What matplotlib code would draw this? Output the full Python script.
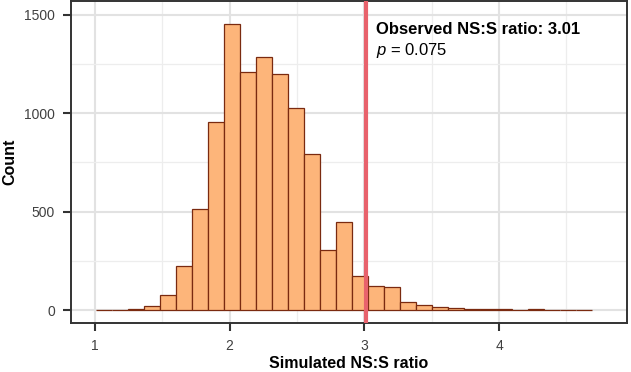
import matplotlib
matplotlib.use("Agg")
import matplotlib.pyplot as plt
import numpy as np

plt.rcParams['font.family'] = ['Liberation Sans', 'DejaVu Sans']
plt.rcParams['mathtext.fontset'] = 'custom'
plt.rcParams['mathtext.it'] = 'Liberation Sans:italic'
plt.rcParams['mathtext.rm'] = 'Liberation Sans'

# Histogram of simulated NS:S ratios (counts)
bin_start = 1.007
bin_width = 0.1188
counts = [2, 1, 5, 20, 76, 225, 515, 954, 1453, 1208, 1285, 1198, 1025, 795,
          304, 446, 173, 124, 117, 39, 27, 17, 10, 7, 4, 3, 2, 6, 2, 1, 1]
observed = 3.01
p_value = 0.075

x_ticks = [1, 2, 3, 4]
y_ticks = [0, 500, 1000, 1500]

fig = plt.figure(figsize=(6.31, 3.72), dpi=100)
ax = fig.add_axes([71 / 631, 49 / 372, 556 / 631, 322 / 372])

lefts = bin_start + bin_width * np.arange(len(counts))
ax.bar(lefts, counts, width=bin_width, align='edge', color='#FDB57A',
       edgecolor='#7A2A10', linewidth=0.9, zorder=2)
ax.axvline(observed, color='#E8626C', linewidth=3, zorder=3)

ax.text(observed + 0.08, 1425, 'Observed NS:S ratio: %.2f' % observed,
        fontsize=12, fontweight='bold', va='center', ha='left')
ax.text(observed + 0.08, 1318, r'$p$ = %.3f' % p_value,
        fontsize=12, va='center', ha='left')

ax.set_xlim(0.822, 4.95)
ax.set_ylim(-66, 1571)
ax.set_xticks(x_ticks)
ax.set_yticks(y_ticks)
ax.set_xticks([1.5, 2.5, 3.5, 4.5], minor=True)
ax.set_yticks([250, 750, 1250], minor=True)
ax.grid(which='major', color='#E2E2E2', linewidth=1.5, zorder=0)
ax.grid(which='minor', color='#EDEDED', linewidth=0.9, zorder=0)
ax.set_axisbelow(True)
ax.tick_params(which='minor', length=0)
ax.tick_params(which='major', length=6, width=1.5, color='#333333',
               labelsize=10, labelcolor='#404040', pad=5.5)
for s in ax.spines.values():
    s.set_color('#333333')
    s.set_linewidth(1.4)

ax.set_xlabel('Simulated NS:S ratio', fontsize=11.5, fontweight='bold', labelpad=2.5)
ax.set_ylabel('Count', fontsize=11.5, fontweight='bold', labelpad=5)

fig.savefig('out.png', dpi=100)
